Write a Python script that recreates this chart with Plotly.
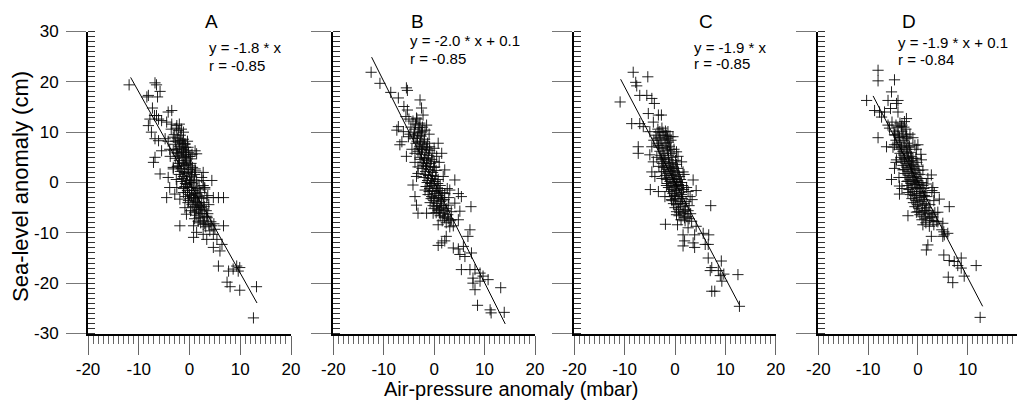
import numpy as np
import plotly.graph_objects as go

# ---------------- data ----------------
panel_labels = ["A", "B", "C", "D"]
slopes = [-1.8, -2.0, -1.9, -1.9]
intercepts = [0.0, 0.1, 0.0, 0.1]
r_values = [-0.85, -0.85, -0.85, -0.84]
line_x_start = [-11.6, -12.4, -10.8, -9.0]
line_x_end = [13.3, 14.1, 12.8, 13.0]
x_ticks = [-20, -10, 0, 10, 20]
y_ticks = [-30, -20, -10, 0, 10, 20, 30]

pts_a = [
    (-11.9, 19.4), (-6.8, 19.8), (-6.5, 19.4), (-5.8, 18.1), (-6.3, 17.0), (-8.1, 17.3), (-8.4, 17.0),
    (-7.3, 14.8), (-6.9, 13.3), (-6.5, 13.3), (-6.1, 12.6), (-7.8, 12.6), (-8.1, 11.3), (-4.2, 14.0),
    (-3.5, 14.3), (-5.5, 12.3), (-4.5, 12.0), (-3.5, 11.6), (-2.5, 11.3), (-2.2, 10.3), (-1.2, 10.0),
    (-6.8, 8.7), (-6.1, 8.3), (-7.5, 10.0), (-4.8, 8.7), (-3.2, 9.0), (-1.9, 8.3), (-0.9, 7.7),
    (-0.3, 7.0), (1.1, 6.3), (1.4, 5.7), (-6.8, 5.0), (-7.1, 4.0), (-5.5, 6.3), (-3.9, 6.6),
    (-2.5, 6.0), (-1.2, 6.0), (0.1, 5.2), (-5.8, 1.7), (-4.2, 1.0), (-3.2, 2.7), (-2.2, 3.3),
    (-0.9, 4.0), (0.1, 3.3), (1.1, 2.7), (2.7, 2.0), (2.7, 0.4), (4.4, 0.4), (2.7, -0.6),
    (3.0, -1.3), (-4.5, -3.0), (-3.9, -1.0), (-2.5, -1.0), (-2.9, -2.3), (-1.9, -3.3), (-1.2, -2.0),
    (-0.5, -0.4), (0.4, 1.3), (-0.2, -3.6), (1.1, -3.0), (3.4, -3.0), (4.7, -3.0), (5.7, -3.0),
    (6.7, -3.0), (1.7, -4.3), (-0.9, -5.0), (-0.6, -6.3), (1.1, -5.7), (2.4, -5.3), (3.4, -6.7),
    (1.7, -7.7), (2.7, -8.3), (-1.9, -8.6), (0.8, -8.6), (4.4, -8.6), (5.0, -9.3), (6.7, -8.6),
    (1.4, -9.9), (0.8, -10.9), (2.7, -10.3), (3.4, -11.3), (4.7, -10.3), (5.4, -11.3), (4.7, -12.9),
    (6.4, -12.3), (6.0, -13.6), (5.7, -16.6), (7.7, -17.6), (8.6, -17.2), (9.3, -16.6), (9.9, -16.9),
    (9.6, -17.6), (7.4, -19.8), (8.0, -20.7), (9.9, -21.4), (13.2, -20.7), (12.6, -26.9),
    (-3.0, 9.5), (-2.4, 8.8), (-1.8, 9.4), (-1.2, 8.6), (-2.8, 7.6), (-2.0, 7.2), (-1.4, 7.8),
    (-0.8, 7.0), (-3.2, 6.4), (-2.4, 5.8), (-1.6, 6.2), (-0.9, 5.6), (-0.2, 6.0), (-2.8, 4.8),
    (-2.0, 4.4), (-1.3, 4.9), (-0.6, 4.3), (0.2, 4.7), (-2.4, 3.2), (-1.6, 2.8), (-0.9, 3.4),
    (-0.2, 2.6), (0.6, 3.0), (-2.0, 1.6), (-1.2, 1.2), (-0.5, 1.8), (0.3, 1.1), (1.0, 1.6),
    (-1.6, 0.2), (-0.8, -0.2), (0.0, 0.4), (0.7, -0.1), (1.4, 0.3), (-1.2, -1.2), (-0.4, -1.6),
    (0.4, -1.0), (1.1, -1.5), (1.9, -0.9), (-0.8, -2.8), (0.0, -2.4), (0.8, -3.0), (1.5, -2.5),
    (2.2, -2.0), (-0.3, -4.0), (0.5, -4.4), (1.2, -3.8), (2.0, -4.6), (2.8, -4.0), (0.2, -5.6),
    (1.0, -6.0), (1.8, -5.4), (2.5, -6.2), (3.3, -5.6), (1.0, -7.2), (1.9, -7.0), (2.7, -7.6),
    (3.5, -7.0), (4.2, -7.8), (3.2, -8.8), (4.0, -9.6), (4.8, -8.2), (-3.6, 10.6), (-2.6, 10.8),
    (-4.2, 8.2), (-3.8, 5.2), (-3.2, 3.0), (-2.6, 0.6), (2.4, 1.0), (3.0, -1.0), (3.6, -2.6),
    (3.8, -4.4), (-0.4, 8.2), (0.5, 5.6),
    (-2.7, 8.2), (-2.1, 8.0), (-1.5, 8.4), (-0.9, 7.6), (-2.5, 6.6), (-1.9, 6.8), (-1.2, 6.6),
    (-0.6, 6.4), (-2.2, 5.2), (-1.5, 5.4), (-0.8, 5.0), (-0.1, 5.2), (-2.0, 3.8), (-1.2, 3.7),
    (-0.5, 3.6), (0.3, 3.8), (-1.8, 2.2), (-1.0, 2.0), (-0.3, 2.1), (0.5, 2.0), (1.2, 2.3),
    (-1.4, 0.8), (-0.6, 0.5), (0.2, 0.0), (0.9, 0.5), (-0.9, -0.8), (-0.1, -1.0), (0.7, -1.6),
    (1.5, -1.2), (-0.4, -2.0), (0.4, -2.6), (1.1, -2.2), (1.9, -2.8), (0.1, -3.2), (0.9, -3.5),
    (1.6, -4.0), (2.4, -3.2), (0.7, -4.8), (1.4, -5.0), (2.2, -5.0), (2.9, -4.8), (1.3, -6.5),
    (2.1, -6.2), (2.9, -6.8), (3.6, -6.2), (2.2, -8.0), (3.0, -8.2), (3.8, -8.4), (-1.6, 10.6),
    (-2.0, 11.6),
]

pts_b = [
    (-12.5, 21.9), (-10.75, 19.7), (-8.6, 17.9), (-7.1, 16.8), (-5.5, 18.8), (-5.3, 18.3), (-2.8, 16.4),
    (-6.0, 15.1), (-5.3, 14.4), (-5.6, 13.1), (-2.5, 14.8), (-2.2, 13.4), (-3.5, 12.8), (-7.1, 11.1),
    (-7.4, 10.4), (-6.1, 10.1), (-6.4, 8.1), (-6.8, 7.5), (-5.1, 9.1), (-4.1, 8.8), (-2.8, 9.4),
    (-1.8, 10.4), (-1.5, 11.4), (-5.5, 5.2), (-3.8, 5.8), (-2.5, 6.5), (-0.9, 7.1), (0.8, 7.8),
    (1.5, 5.8), (0.5, 5.2), (-3.2, 3.1), (-1.5, 3.8), (0.1, 3.1), (2.1, 2.5), (4.1, 0.5),
    (-3.5, 1.2), (-4.2, -0.5), (-3.8, -2.8), (-3.5, -4.5), (-3.2, -6.1), (-1.5, -6.1), (-0.2, -6.1),
    (-1.8, -1.5), (-0.5, -0.2), (0.8, -1.2), (2.1, -2.2), (3.1, -1.5), (4.8, -2.2), (5.4, -2.8),
    (1.5, -3.5), (2.8, -4.5), (4.1, -4.1), (5.1, -5.7), (7.3, -4.8), (1.1, -5.4), (2.1, -6.8),
    (3.4, -7.4), (4.8, -7.4), (0.8, -8.4), (3.1, -8.8), (7.1, -9.4), (6.7, -10.7), (2.4, -10.7),
    (1.5, -12.0), (0.8, -12.5), (2.1, -11.6), (3.8, -13.0), (4.8, -13.2), (5.8, -12.7), (5.1, -14.3),
    (6.1, -14.7), (7.4, -14.0), (5.4, -17.3), (7.1, -17.3), (8.1, -17.3), (9.1, -18.0), (9.7, -18.6),
    (10.7, -19.3), (7.7, -19.0), (7.7, -20.0), (9.1, -19.6), (8.1, -21.3), (13.2, -20.9), (8.6, -24.4),
    (11.1, -25.3), (11.3, -25.9), (13.9, -25.8),
    (-4.2, 12.2), (-3.4, 12.6), (-2.8, 11.8), (-4.6, 11.0), (-3.8, 10.6), (-3.0, 10.9), (-2.4, 10.2),
    (-4.0, 9.4), (-3.3, 8.8), (-2.6, 9.2), (-1.9, 8.6), (-3.6, 7.8), (-2.9, 7.2), (-2.2, 7.6),
    (-1.5, 7.0), (-3.2, 6.2), (-2.5, 5.6), (-1.8, 6.0), (-1.1, 5.4), (-0.4, 5.8), (-2.8, 4.6),
    (-2.1, 4.0), (-1.4, 4.4), (-0.7, 3.8), (0.0, 4.2), (-2.4, 2.8), (-1.7, 2.2), (-1.0, 2.6),
    (-0.3, 2.0), (0.4, 2.4), (-2.0, 1.0), (-1.3, 0.4), (-0.6, 0.8), (0.1, 0.2), (0.8, 0.6),
    (-1.6, -0.8), (-0.9, -1.2), (-0.2, -0.6), (0.5, -1.1), (1.2, -0.6), (-1.2, -2.4), (-0.5, -2.8),
    (0.2, -2.2), (0.9, -2.6), (1.6, -2.0), (-0.8, -4.0), (-0.1, -3.6), (0.6, -4.2), (1.3, -3.8),
    (2.0, -3.4), (0.0, -5.2), (0.8, -5.6), (1.5, -5.0), (2.2, -5.6), (1.2, -6.6), (2.0, -7.0),
    (2.7, -6.4), (3.4, -5.8), (2.4, -8.0), (3.2, -7.6), (3.8, -8.6), (-5.0, 12.6), (-4.8, 9.6),
    (-4.4, 6.6), (-3.8, 4.0), (-3.2, 1.8), (1.8, 1.2), (2.6, -1.2), (2.9, -3.0), (1.0, 4.0),
    (0.0, 6.8), (-1.0, 9.6),
    (-3.7, 11.6), (-3.0, 11.4), (-2.3, 11.0), (-3.9, 10.0), (-3.2, 9.8), (-2.5, 10.0), (-3.4, 8.2),
    (-2.7, 8.0), (-2.0, 8.2), (-1.3, 7.8), (-3.0, 6.8), (-2.3, 6.6), (-1.6, 6.6), (-0.9, 6.4),
    (-2.6, 5.0), (-1.9, 4.8), (-1.2, 4.9), (-0.5, 4.6), (-2.2, 3.4), (-1.5, 3.2), (-0.8, 3.2),
    (-0.1, 3.0), (-1.8, 1.6), (-1.1, 1.4), (-0.4, 1.4), (0.3, 1.2), (-1.4, 0.0), (-0.7, -0.2),
    (0.0, -0.2), (0.7, -0.2), (-1.0, -1.8), (-0.3, -1.6), (0.4, -1.8), (1.1, -1.6), (-0.6, -3.2),
    (0.1, -3.0), (0.8, -3.2), (1.5, -3.0), (-0.2, -4.6), (0.5, -4.8), (1.2, -4.6), (1.9, -4.6),
    (0.4, -6.0), (1.1, -6.0), (1.8, -6.2), (2.5, -5.2), (1.6, -7.6), (2.8, -7.2),
]

pts_c = [
    (-8.3, 21.9), (-5.4, 21.0), (-7.8, 19.9), (-7.6, 19.2), (-10.9, 16.0), (-7.0, 17.3), (-5.6, 17.3),
    (-4.6, 16.7), (-4.1, 15.7), (-5.3, 13.7), (-3.3, 13.4), (-2.7, 13.4), (-8.6, 11.7), (-7.0, 11.7),
    (-6.3, 11.1), (-4.3, 12.0), (-5.0, 10.1), (-3.0, 10.1), (-1.4, 10.1), (-1.0, 9.1), (-0.4, 9.1),
    (-7.3, 7.1), (-7.3, 5.8), (-4.6, 7.1), (-5.0, 5.5), (-3.3, 7.4), (-4.3, 4.1), (-2.4, 4.8),
    (0.3, 6.1), (1.3, 4.1), (-4.6, 2.1), (-4.0, 1.2), (-2.7, 2.1), (-0.4, 2.8), (1.6, 2.1),
    (3.6, 0.5), (-4.9, -1.4), (-3.3, -1.8), (-1.7, -0.6), (0.3, -0.6), (2.3, -1.0), (-2.0, -2.8),
    (-0.7, -3.4), (1.3, -2.8), (3.0, -2.8), (4.2, -1.6), (7.1, -4.6), (-1.9, -8.3), (0.3, -6.4),
    (1.9, -7.0), (3.3, -7.7), (0.5, -8.4), (2.6, -9.0), (4.2, -8.7), (1.6, -10.4), (3.9, -10.4),
    (5.6, -10.1), (6.7, -10.4), (1.9, -11.6), (3.6, -12.0), (1.6, -12.6), (3.9, -12.9), (6.0, -12.3),
    (6.6, -12.3), (6.6, -15.0), (9.2, -15.6), (7.3, -16.9), (7.0, -17.5), (8.6, -17.5), (9.0, -18.5),
    (9.7, -18.2), (12.5, -18.3), (9.3, -19.6), (7.3, -21.6), (7.9, -21.6), (12.8, -24.6),
    (-3.4, 10.6), (-2.6, 10.8), (-1.9, 10.2), (-3.8, 9.4), (-3.0, 9.0), (-2.2, 9.4), (-1.5, 8.8),
    (-3.4, 7.8), (-2.6, 7.4), (-1.8, 7.8), (-1.1, 7.2), (-3.0, 6.2), (-2.2, 5.8), (-1.5, 6.4),
    (-0.8, 5.8), (-2.7, 4.6), (-2.0, 4.2), (-1.3, 4.6), (-0.6, 4.0), (0.1, 4.4), (-2.3, 3.0),
    (-1.6, 2.6), (-0.9, 3.0), (-0.2, 2.4), (0.5, 2.8), (-1.9, 1.4), (-1.2, 1.0), (-0.5, 1.4),
    (0.2, 0.8), (0.9, 1.2), (-1.5, -0.2), (-0.8, -0.6), (-0.1, 0.0), (0.6, -0.4), (1.3, 0.0),
    (-1.1, -1.8), (-0.4, -2.2), (0.3, -1.6), (1.0, -2.0), (1.7, -1.4), (-0.6, -3.6), (0.1, -3.2),
    (0.8, -3.8), (1.5, -3.2), (2.2, -3.8), (0.0, -5.0), (0.7, -5.4), (1.4, -4.8), (2.1, -5.4),
    (2.8, -4.6), (0.8, -6.6), (1.6, -6.2), (2.4, -6.8), (3.1, -6.2), (-4.2, 8.4), (-3.6, 5.0),
    (-3.2, 3.2), (-2.6, 0.8), (1.8, 1.6), (2.6, -1.8), (3.4, -3.4), (-0.2, 6.6), (0.6, 5.2),
    (-0.8, 8.4),
    (-3.2, 10.0), (-2.4, 10.0), (-1.7, 9.4), (-3.6, 8.8), (-2.8, 8.4), (-2.0, 8.6), (-1.3, 8.0),
    (-3.2, 7.0), (-2.4, 6.8), (-1.6, 7.0), (-0.9, 6.6), (-2.8, 5.4), (-2.0, 5.0), (-1.3, 5.4),
    (-0.6, 5.0), (-2.5, 3.8), (-1.8, 3.4), (-1.1, 3.8), (-0.4, 3.2), (0.3, 3.6), (-2.1, 2.2),
    (-1.4, 1.8), (-0.7, 2.2), (0.0, 1.6), (0.7, 2.0), (-1.7, 0.6), (-1.0, 0.2), (-0.3, 0.6),
    (0.4, 0.2), (1.1, 0.6), (-1.3, -1.0), (-0.6, -1.4), (0.1, -0.8), (0.8, -1.2), (1.5, -0.6),
    (-0.8, -2.8), (-0.1, -2.6), (0.6, -2.8), (1.3, -2.4), (-0.3, -4.2), (0.4, -4.4), (1.1, -4.2),
    (1.8, -4.2), (0.3, -5.8), (1.0, -6.0), (1.8, -5.8), (2.6, -5.6), (1.2, -7.4), (2.0, -7.6),
    (2.8, -7.2),
]

pts_d = [
    (-8.0, 22.3), (-8.0, 20.2), (-4.7, 20.4), (-5.3, 18.0), (-10.3, 16.3), (-6.0, 16.3), (-4.3, 15.7),
    (-4.0, 16.3), (-8.7, 14.3), (-7.7, 14.0), (-6.7, 14.0), (-5.5, 14.7), (-4.0, 14.0), (-7.3, 13.0),
    (-2.3, 12.7), (-2.7, 12.1), (-6.0, 11.4), (-5.7, 10.8), (-3.3, 11.1), (-8.0, 8.9), (-4.7, 9.5),
    (-3.7, 8.9), (-2.3, 9.2), (-1.0, 8.9), (-6.3, 7.1), (-4.7, 7.5), (-3.3, 6.9), (-1.7, 7.2),
    (0.0, 7.5), (-0.3, 6.6), (-4.3, 4.5), (-2.7, 4.8), (-1.0, 4.8), (0.7, 4.5), (-4.7, 2.8),
    (-3.0, 2.5), (-1.3, 3.1), (1.0, 2.5), (2.7, 1.5), (-5.3, 0.6), (-3.7, -0.7), (-2.0, 0.3),
    (0.0, 0.0), (1.7, -0.3), (3.0, -1.0), (-3.7, -2.3), (-2.0, -2.0), (-0.3, -2.6), (1.3, -2.6),
    (3.3, -2.0), (4.3, -3.3), (6.3, -4.8), (-2.0, -6.6), (-0.3, -5.9), (1.3, -5.6), (3.0, -6.3),
    (4.0, -5.9), (1.0, -8.4), (2.3, -8.7), (3.7, -7.7), (5.0, -8.1), (2.7, -10.7), (5.0, -10.7),
    (5.3, -10.4), (6.0, -10.1), (2.0, -12.4), (1.7, -13.4), (5.2, -14.4), (6.3, -15.5), (7.3, -15.7),
    (8.7, -15.0), (8.0, -16.5), (8.7, -17.0), (11.7, -16.5), (6.1, -18.8), (7.0, -19.9), (9.3, -18.6),
    (12.5, -26.8),
    (-4.4, 11.4), (-3.6, 11.8), (-2.8, 11.0), (-4.8, 10.2), (-4.0, 9.8), (-3.2, 10.2), (-2.4, 9.6),
    (-4.4, 8.4), (-3.6, 8.0), (-2.8, 8.4), (-2.0, 7.8), (-3.8, 6.6), (-3.0, 6.2), (-2.3, 6.6),
    (-1.5, 6.0), (-3.4, 5.0), (-2.6, 4.6), (-1.9, 5.0), (-1.2, 4.4), (-0.4, 4.8), (-3.0, 3.4),
    (-2.2, 3.0), (-1.5, 3.4), (-0.8, 2.8), (0.0, 3.2), (-2.6, 1.8), (-1.8, 1.4), (-1.1, 1.8),
    (-0.4, 1.2), (0.4, 1.6), (-2.2, 0.2), (-1.4, -0.2), (-0.7, 0.2), (0.0, -0.4), (0.8, 0.0),
    (-1.8, -1.4), (-1.0, -1.8), (-0.3, -1.2), (0.5, -1.8), (1.2, -1.2), (-1.2, -3.2), (-0.4, -3.6),
    (0.3, -3.0), (1.1, -3.4), (1.8, -2.8), (-0.6, -4.8), (0.2, -5.2), (0.9, -4.6), (1.7, -5.0),
    (2.4, -4.4), (0.4, -6.4), (1.2, -6.8), (2.0, -6.2), (2.7, -6.8), (3.4, -6.0), (1.6, -8.0),
    (2.4, -7.6), (3.2, -8.4), (4.0, -7.8), (4.8, -9.4), (5.2, -9.8), (-5.2, 12.0), (-5.0, 7.0),
    (-4.4, 4.0), (-3.8, 1.0), (-3.2, -1.2), (2.0, 0.8), (2.8, -1.6), (3.2, -3.6), (0.6, 5.6),
    (-0.6, 7.4), (-1.6, 9.6),
    (-4.0, 11.0), (-3.2, 11.4), (-2.4, 10.6), (-4.6, 9.4), (-3.8, 9.0), (-3.0, 9.2), (-2.2, 8.8),
    (-4.2, 7.6), (-3.4, 7.2), (-2.6, 7.4), (-1.8, 7.0), (-3.6, 5.8), (-2.8, 5.4), (-2.1, 5.8),
    (-1.3, 5.2), (-3.2, 4.2), (-2.4, 3.8), (-1.7, 4.2), (-1.0, 3.6), (-0.2, 4.0), (-2.8, 2.6),
    (-2.0, 2.2), (-1.3, 2.6), (-0.6, 2.0), (0.2, 2.4), (-2.4, 1.0), (-1.6, 0.6), (-0.9, 1.0),
    (-0.2, 0.4), (0.6, 0.8), (-2.0, -0.6), (-1.2, -1.0), (-0.5, -0.4), (0.3, -1.0), (1.0, -0.6),
    (-1.5, -2.4), (-0.7, -2.6), (0.0, -2.2), (0.8, -2.6), (1.5, -2.0), (-0.9, -4.0), (-0.1, -4.4),
    (0.6, -3.8), (1.4, -4.2), (0.0, -5.8), (0.8, -6.0), (1.5, -5.6), (2.2, -5.6), (0.8, -7.4),
    (1.6, -7.2), (2.4, -7.0), (3.0, -7.6),
]

panels = [pts_a, pts_b, pts_c, pts_d]

# ---------------- layout geometry (pixels in the 1025x402 window) ----------------
PAGE_OFF = 8                      # default page margin around the plot div
W, H = 1025 - PAGE_OFF, 402 - PAGE_OFF
x_dom_px = [(88, 291), (333.3, 535), (574.3, 775.7), (818.3, 1017.5)]
y_dom_px = (31.5, 333.5)  # top, bottom
letter_pos = [(211, 21), (417.5, 21.5), (706, 21.5), (909, 21.5)]
eq_pos = [(207, 48, 65), (408, 41, 58), (692, 48, 64), (896, 42, 59)]

FONT = "Liberation Sans, Arial, Helvetica, sans-serif"


def px2fx(px):
    return (px - PAGE_OFF) / W


def px2fy(py):
    return 1 - (py - PAGE_OFF) / H


fig = go.Figure()
annotations = []
for i, pts in enumerate(panels):
    xs = [p[0] for p in pts]
    ys = [p[1] for p in pts]
    sfx = "" if i == 0 else str(i + 1)
    fig.add_trace(go.Scatter(
        x=xs, y=ys, mode="markers", xaxis="x" + sfx, yaxis="y" + sfx,
        marker=dict(symbol="cross-thin", size=8,
                    line=dict(width=1, color="rgba(10,10,10,0.9)")),
        showlegend=False, hoverinfo="skip"))
    lx = np.array([line_x_start[i], line_x_end[i]])
    ly = slopes[i] * lx + intercepts[i]
    fig.add_trace(go.Scatter(
        x=lx, y=ly, mode="lines", xaxis="x" + sfx, yaxis="y" + sfx,
        line=dict(color="black", width=1), showlegend=False, hoverinfo="skip"))

    xd = [px2fx(x_dom_px[i][0]), px2fx(x_dom_px[i][1])]
    yd = [px2fy(y_dom_px[1]), px2fy(y_dom_px[0])]
    fig.layout["xaxis" + sfx] = dict(
        domain=xd, range=[-20, 20], anchor="y" + sfx,
        showgrid=False, zeroline=False,
        showline=True, linecolor="black", linewidth=2,
        tickmode="array", tickvals=x_ticks, ticktext=[str(v) for v in x_ticks],
        ticks="outside", ticklen=19, tickwidth=1, tickcolor="#666",
        ticklabelstandoff=0,
        tickfont=dict(family=FONT, size=17, color="black"),
        minor=dict(dtick=1, tick0=0, ticks="outside", ticklen=8, tickwidth=1,
                   tickcolor="#666", showgrid=False),
        fixedrange=True,
    )
    fig.layout["yaxis" + sfx] = dict(
        domain=yd, range=[-30, 30], anchor="x" + sfx,
        showgrid=False, zeroline=False,
        showline=True, linecolor="black", linewidth=2,
        tickmode="array", tickvals=y_ticks, ticktext=[str(v) for v in y_ticks],
        ticks="outside", ticklen=20, tickwidth=1, tickcolor="#777",
        showticklabels=(i == 0), ticklabelstandoff=4,
        tickfont=dict(family=FONT, size=17, color="black"),
        minor=dict(dtick=1, tick0=0, ticks="inside", ticklen=7, tickwidth=1,
                   tickcolor="#333", showgrid=False),
        fixedrange=True,
    )

    lx_px, ly_px = letter_pos[i]
    annotations.append(dict(
        text=panel_labels[i], x=px2fx(lx_px), y=px2fy(ly_px), xref="paper", yref="paper",
        xanchor="center", yanchor="middle", showarrow=False,
        font=dict(family=FONT, size=19, color="black")))
    ex, ey1, ey2 = eq_pos[i]
    if intercepts[i] != 0:
        eq = f"y = {slopes[i]:.1f} * x + {intercepts[i]:.1f}"
    else:
        eq = f"y = {slopes[i]:.1f} * x"
    annotations.append(dict(
        text=eq, x=px2fx(ex), y=px2fy(ey1), xref="paper", yref="paper",
        xanchor="left", yanchor="middle", showarrow=False,
        font=dict(family=FONT, size=15, color="black")))
    annotations.append(dict(
        text=f"r = {r_values[i]:.2f}", x=px2fx(ex), y=px2fy(ey2), xref="paper", yref="paper",
        xanchor="left", yanchor="middle", showarrow=False,
        font=dict(family=FONT, size=15, color="black")))

annotations.append(dict(
    text="Sea-level anomaly (cm)", x=px2fx(20), y=px2fy(187), xref="paper", yref="paper",
    xanchor="center", yanchor="middle", textangle=-90, showarrow=False,
    font=dict(family=FONT, size=22, color="black")))
annotations.append(dict(
    text="Air-pressure anomaly (mbar)", x=px2fx(511), y=px2fy(389), xref="paper", yref="paper",
    xanchor="center", yanchor="middle", showarrow=False,
    font=dict(family=FONT, size=20, color="black")))

fig.update_layout(
    width=W, height=H,
    margin=dict(l=0, r=0, t=0, b=0, autoexpand=False),
    paper_bgcolor="white", plot_bgcolor="white",
    annotations=annotations,
    showlegend=False,
)

fig.write_html("out.html")
